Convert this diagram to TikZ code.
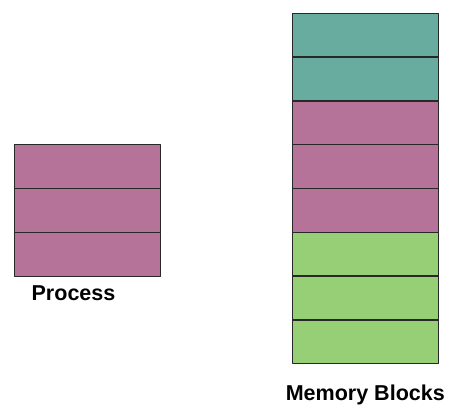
\documentclass[tikz,border=0pt]{standalone}
\usepackage{fontspec}
\setmainfont{Liberation Sans}
\usetikzlibrary{positioning}
\definecolor{procfill}{RGB}{181,115,153}
\definecolor{usedfill}{RGB}{104,171,159}
\definecolor{freefill}{RGB}{151,207,118}
\definecolor{edgegray}{RGB}{40,40,40}
\tikzset{
    lab/.style={
        font=\fontsize{21.6}{24}\selectfont\bfseries
    }
}

\begin{document}
\begin{tikzpicture}[x=1bp,y=-1bp, line cap=round, line join=round]

% background
\useasboundingbox (0,0) rectangle (453,405);

\tikzset{
  blk/.style={rectangle, draw=edgegray, line width=1.3bp, minimum width=146bp, minimum height=43.8bp, inner sep=0pt, outer sep=0pt},
  proc/.style={blk, fill=procfill},
  used/.style={blk, fill=usedfill},
  free/.style={blk, fill=freefill},
}

% process
\node[proc] (p1) at (87.5,166.7) {};
\node[proc, below=0pt of p1] (p2) {};
\node[proc, below=0pt of p2] (p3) {};

% memory
\node[used] (m1) at (365.3,35.2) {};
\node[used, below=0pt of m1] (m2) {};
\node[proc, below=0pt of m2] (m3) {};
\node[proc, below=0pt of m3] (m4) {};
\node[proc, below=0pt of m4] (m5) {};
\node[free, below=0pt of m5] (m6) {};
\node[free, below=0pt of m6] (m7) {};
\node[free, below=0pt of m7] (m8) {};

% labels
\node[lab] (lproc) at (73.5,292.7) {Process};
\node[lab] (lmem) at (365.3,394.5) {Memory Blocks};

  \end{tikzpicture}
\end{document}
